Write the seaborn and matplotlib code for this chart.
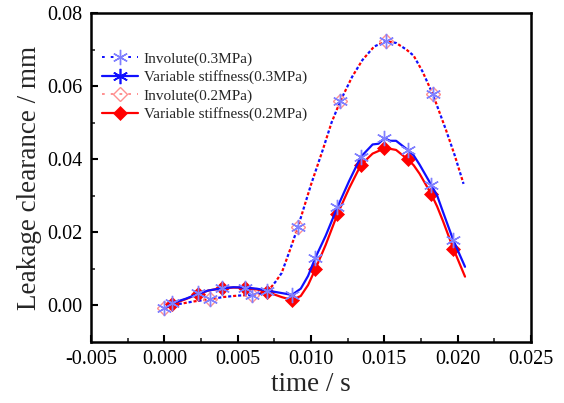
import numpy as np
import pandas as pd
import matplotlib
matplotlib.use("Agg")
import matplotlib.pyplot as plt
from matplotlib.lines import Line2D
import seaborn as sns

# ---- data ----
inv_t = [0.0000, 0.0010, 0.0020, 0.0031, 0.0040, 0.0050, 0.0060, 0.0067, 0.0072,
         0.0076, 0.0080, 0.0086, 0.0091, 0.0100, 0.0108, 0.0114, 0.0120, 0.0128,
         0.0135, 0.0143, 0.0151, 0.0158, 0.0165, 0.0170, 0.0176, 0.0183, 0.0192,
         0.0198, 0.0204]
inv_y = [-0.0009, 0.0003, 0.0010, 0.0016, 0.0022, 0.0026, 0.0028, 0.0032, 0.0045,
         0.0065, 0.0088, 0.0155, 0.0213, 0.0330, 0.0425, 0.0500, 0.0559, 0.0625,
         0.0671, 0.0708, 0.0723, 0.0718, 0.0700, 0.0683, 0.0640, 0.0578, 0.0480,
         0.0410, 0.0332]
inv_mark_t = [0.0000, 0.0031, 0.0060, 0.0091, 0.0120, 0.0151, 0.0183]
inv_mark_y = [-0.0009, 0.0016, 0.0027, 0.0213, 0.0559, 0.0723, 0.0578]

vs_t = [0.0002, 0.0005, 0.0015, 0.0023, 0.0030, 0.0039, 0.0047, 0.0055, 0.0063,
        0.0070, 0.0080, 0.0087, 0.0093, 0.0098, 0.0103, 0.0110, 0.0118, 0.0126,
        0.0134, 0.0142, 0.0146, 0.0150, 0.0154, 0.0158, 0.0166, 0.0170, 0.0174,
        0.0182, 0.0186, 0.0190, 0.0197, 0.0205]
vs03_y = [-0.0005, 0.0005, 0.0018, 0.0031, 0.0040, 0.0046, 0.0049, 0.0048, 0.0045,
          0.0040, 0.0033, 0.0028, 0.0045, 0.0080, 0.0130, 0.0190, 0.0268, 0.0340,
          0.0406, 0.0440, 0.0442, 0.0457, 0.0450, 0.0450, 0.0425, 0.0410, 0.0385,
          0.0329, 0.0300, 0.0255, 0.0178, 0.0105]
vs02_y = [-0.0004, 0.0002, 0.0017, 0.0030, 0.0040, 0.0046, 0.0048, 0.0048, 0.0043,
          0.0036, 0.0022, 0.0014, 0.0025, 0.0055, 0.0099, 0.0165, 0.0249, 0.0320,
          0.0384, 0.0415, 0.0422, 0.0430, 0.0428, 0.0425, 0.0399, 0.0383, 0.0360,
          0.0304, 0.0270, 0.0230, 0.0155, 0.0078]
vs_mark_t = [0.0005, 0.0023, 0.0039, 0.0055, 0.0070, 0.0087, 0.0103, 0.0118,
             0.0134, 0.0150, 0.0166, 0.0182, 0.0197]
vs03_mark_y = [0.0005, 0.0032, 0.0047, 0.0048, 0.0038, 0.0027, 0.0128, 0.0268,
               0.0406, 0.0457, 0.0425, 0.0329, 0.0178]
vs02_mark_y = [0.0002, 0.0030, 0.0046, 0.0048, 0.0035, 0.0013, 0.0099, 0.0249,
               0.0384, 0.0430, 0.0399, 0.0304, 0.0155]

labels = ["Involute(0.3MPa)", "Variable stiffness(0.3MPa)",
          "Involute(0.2MPa)", "Variable stiffness(0.2MPa)"]
xticks = [-0.005, 0.000, 0.005, 0.010, 0.015, 0.020, 0.025]
yticks = [0.00, 0.02, 0.04, 0.06, 0.08]

# ---- style ----
sns.set_theme(style="ticks")
plt.rcParams["font.family"] = ["Liberation Serif", "DejaVu Serif"]

BLUE = "#1010ff"
RED = "#ff0000"
LBLUE = "#8080ff"
LRED = "#ff9090"

fig = plt.figure(figsize=(5.64, 4.03), dpi=100)
ax = fig.add_axes([0.1614, 0.1514, 0.7801, 0.8163])

ast = (6, 2, 0)
DOT_R = (0, (1.4, 3.1))
DOT_B = (2.25, (1.4, 3.1))

# Involute lines (red and blue dotted, interleaved)
sns.lineplot(x=inv_t, y=inv_y, ax=ax, color=RED, linewidth=1.6,
             linestyle=DOT_R, estimator=None, sort=False)
sns.lineplot(x=inv_t, y=inv_y, ax=ax, color=BLUE, linewidth=1.6,
             linestyle=DOT_B, estimator=None, sort=False)
sns.lineplot(x=inv_mark_t, y=inv_mark_y, ax=ax, color=LRED, linestyle="none",
             marker="D", markersize=7.5, markerfacecolor="none",
             markeredgecolor=LRED, markeredgewidth=1.0,
             estimator=None, sort=False)
sns.lineplot(x=inv_mark_t, y=inv_mark_y, ax=ax, color=LBLUE, linestyle="none",
             marker=ast, markersize=11, markeredgecolor=LBLUE,
             markeredgewidth=1.0, estimator=None, sort=False)

# Variable stiffness lines
sns.lineplot(x=vs_t, y=vs02_y, ax=ax, color=RED, linewidth=1.6,
             estimator=None, sort=False)
sns.lineplot(x=vs_mark_t, y=vs02_mark_y, ax=ax, color=RED, linestyle="none",
             marker="D", markersize=7, markeredgecolor=RED, markeredgewidth=0.5,
             estimator=None, sort=False)
sns.lineplot(x=vs_t, y=vs03_y, ax=ax, color=BLUE, linewidth=1.6,
             estimator=None, sort=False)
sns.lineplot(x=vs_mark_t, y=vs03_mark_y, ax=ax, color=LBLUE, linestyle="none",
             marker=ast, markersize=11, markeredgecolor=LBLUE,
             markeredgewidth=1.0, estimator=None, sort=False)

ax.set_xlim(-0.005, 0.025)
ax.set_ylim(-0.0101, 0.08)
ax.set_xticks(xticks)
ax.set_xticklabels([f"{v:.3f}" for v in xticks])
ax.set_yticks(yticks)
ax.set_yticklabels([f"{v:.2f}" for v in yticks])
ax.set_xticks(np.arange(-0.0025, 0.025, 0.005), minor=True)
ax.set_yticks([0.01, 0.03, 0.05, 0.07], minor=True)
ax.tick_params(axis="both", which="major", direction="in", length=5, width=1.5,
               labelsize=14.5, pad=6, colors="black")
ax.tick_params(axis="both", which="minor", direction="in", length=3, width=1.2)
for s in ax.spines.values():
    s.set_linewidth(1.8)
    s.set_color("black")
    s.set_visible(True)

ax.set_xlabel("time / s", fontsize=19.5, labelpad=2)
ax.set_ylabel("Leakage clearance / mm", fontsize=19.5, labelpad=4)

handles = [
    Line2D([], [], color=BLUE, linestyle=(0, (1.4, 3.1)), linewidth=1.4,
           marker=ast, markersize=11, markeredgecolor=LBLUE,
           markeredgewidth=1.0),
    Line2D([], [], color=BLUE, linewidth=1.6, marker=ast, markersize=11,
           markeredgecolor=BLUE, markeredgewidth=1.2),
    Line2D([], [], color=LRED, linestyle=(0, (1.4, 3.1)), linewidth=1.4,
           marker="D", markersize=7, markerfacecolor="none",
           markeredgecolor=LRED, markeredgewidth=1.0),
    Line2D([], [], color=RED, linewidth=1.6, marker="D", markersize=7,
           markeredgecolor=RED, markeredgewidth=0.5),
]
ax.legend(handles, labels, loc="upper left", bbox_to_anchor=(0.0, 0.915),
          frameon=False, fontsize=11, handlelength=2.4, handletextpad=0.35,
          labelspacing=0.3, borderaxespad=0.3)

fig.savefig("out.png", dpi=100)
